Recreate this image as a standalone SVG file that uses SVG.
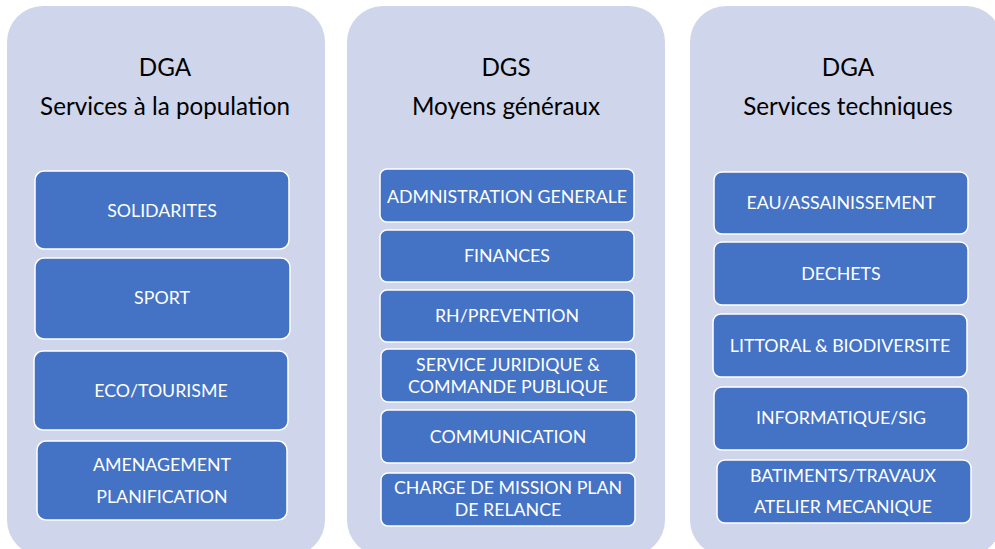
<svg xmlns="http://www.w3.org/2000/svg" width="995" height="549" viewBox="0 0 995 549">
<style>
.panel{fill:#CFD5EA;}
.box{fill:#4472C4;stroke:#FFFFFF;stroke-width:1.5;}
.head{font-family:"Lato","Open Sans","Liberation Sans",sans-serif;font-size:24.2px;fill:#000000;text-anchor:middle;}
.lbl{font-family:"Lato","Open Sans","Liberation Sans",sans-serif;font-size:17.8px;fill:#FFFFFF;text-anchor:middle;}
</style>
<rect width="995" height="549" fill="#FFFFFF"/>
<g id="panel-pop">
<rect class="panel" x="7" y="6" width="318" height="550" rx="36"/>
<text class="head" x="165" y="76">DGA</text>
<text class="head" x="165" y="115">Services à la population</text>
</g>
<g id="panel-moyens">
<rect class="panel" x="347" y="6" width="318" height="550" rx="36"/>
<text class="head" x="506" y="76">DGS</text>
<text class="head" x="506" y="115">Moyens généraux</text>
</g>
<g id="panel-tech">
<rect class="panel" x="690" y="6" width="312" height="550" rx="36"/>
<text class="head" x="848" y="76">DGA</text>
<text class="head" x="848" y="115">Services techniques</text>
</g>
<g id="solidarites"><rect class="box" x="35" y="171" width="254" height="78" rx="9"/><text class="lbl" x="162" y="217">SOLIDARITES</text></g>
<g id="sport"><rect class="box" x="35" y="258" width="255" height="81" rx="9"/><text class="lbl" x="162" y="304">SPORT</text></g>
<g id="eco-tourisme"><rect class="box" x="34" y="351" width="254" height="79" rx="9"/><text class="lbl" x="161" y="397">ECO/TOURISME</text></g>
<g id="amenagement"><rect class="box" x="37" y="441" width="250" height="79" rx="9"/><text class="lbl" x="162" y="471">AMENAGEMENT</text><text class="lbl" x="162" y="503">PLANIFICATION</text></g>
<g id="admin"><rect class="box" x="380" y="169" width="254" height="53" rx="7"/><text class="lbl" x="507" y="203">ADMNISTRATION GENERALE</text></g>
<g id="finances"><rect class="box" x="380" y="230" width="254" height="52" rx="7"/><text class="lbl" x="507" y="262">FINANCES</text></g>
<g id="rh"><rect class="box" x="380" y="290" width="254" height="52" rx="7"/><text class="lbl" x="507" y="322">RH/PREVENTION</text></g>
<g id="juridique"><rect class="box" x="381" y="349" width="255" height="53" rx="7"/><text class="lbl" x="508" y="371">SERVICE JURIDIQUE &amp;</text><text class="lbl" x="508" y="393">COMMANDE PUBLIQUE</text></g>
<g id="communication"><rect class="box" x="381" y="410" width="255" height="53" rx="7"/><text class="lbl" x="508" y="443">COMMUNICATION</text></g>
<g id="charge-mission"><rect class="box" x="381" y="473" width="254" height="53" rx="7"/><text class="lbl" x="508" y="494">CHARGE DE MISSION PLAN</text><text class="lbl" x="508" y="516">DE RELANCE</text></g>
<g id="eau"><rect class="box" x="714" y="172" width="254" height="62" rx="8"/><text class="lbl" x="841" y="209">EAU/ASSAINISSEMENT</text></g>
<g id="dechets"><rect class="box" x="714" y="242" width="254" height="63" rx="8"/><text class="lbl" x="841" y="280">DECHETS</text></g>
<g id="littoral"><rect class="box" x="713" y="314" width="254" height="63" rx="8"/><text class="lbl" x="840" y="352">LITTORAL &amp; BIODIVERSITE</text></g>
<g id="informatique"><rect class="box" x="714" y="387" width="254" height="63" rx="8"/><text class="lbl" x="841" y="424">INFORMATIQUE/SIG</text></g>
<g id="batiments"><rect class="box" x="717" y="460" width="254" height="63" rx="8"/><text class="lbl" x="843" y="482">BATIMENTS/TRAVAUX</text><text class="lbl" x="843" y="513">ATELIER MECANIQUE</text></g>
<g id="connectors"></g>
</svg>
